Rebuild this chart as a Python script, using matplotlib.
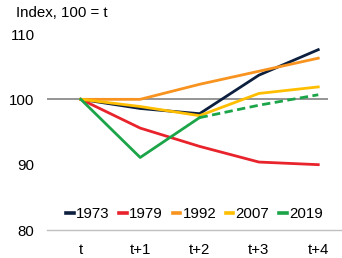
import matplotlib.pyplot as plt

plt.rcParams['font.family'] = ['Liberation Sans', 'DejaVu Sans']

periods = ['t', 't+1', 't+2', 't+3', 't+4']
s1973 = [100, 98.6, 97.8, 103.7, 107.6]
s1979 = [100, 95.6, 92.8, 90.4, 90.0]
s1992 = [100, 100, 102.3, 104.3, 106.3]
s2007 = [100, 98.9, 97.5, 100.9, 101.9]
s2019 = [100, 91.1, 97.2]
s2019_proj = [97.2, 99.1, 100.7]

fig = plt.figure(figsize=(3.42, 2.58), dpi=100)
ax = fig.add_axes([47 / 342, 28 / 258, 295 / 342, 196 / 258])

x = list(range(len(periods)))
ax.hlines(100, -0.57, 4.17, color='#8c8c8c', lw=1.3, zorder=1)

lw = 2.0
ax.plot(x, s1973, color='#0d1f3f', lw=lw, label='1973', zorder=3)
ax.plot(x, s1979, color='#e8232b', lw=lw, label='1979', zorder=3)
ax.plot(x, s1992, color='#f7931e', lw=lw, label='1992', zorder=3)
ax.plot(x, s2007, color='#ffbf00', lw=lw, label='2007', zorder=3)
ax.plot(x[:3], s2019, color='#1ba548', lw=lw, label='2019', zorder=3)
ax.plot(x[2:], s2019_proj, color='#1ba548', lw=lw, ls=(0, (3, 1.6)), zorder=3)

ax.set_xlim(-0.57, 4.4)
ax.set_ylim(80, 110)
ax.set_xticks(x)
ax.set_xticklabels(periods)
ax.set_yticks([80, 90, 100, 110])
ax.tick_params(length=0, labelsize=10.8, colors='#000000', pad=9)
ax.tick_params(axis='y', pad=9)

for side in ['top', 'right', 'left']:
    ax.spines[side].set_visible(False)
ax.spines['bottom'].set_color('#c0c0c0')
ax.spines['bottom'].set_linewidth(1.0)

fig.text(16 / 342, 1 - 13 / 258, 'Index, 100 = t', fontsize=10.8, va='center')

ax.legend(loc='center', bbox_to_anchor=(0.5, 0.08), ncol=5, frameon=False,
          fontsize=10.8, handlelength=0.5, handletextpad=0.15, columnspacing=0.65,
          borderpad=0)
for h in ax.get_legend().get_lines():
    h.set_linewidth(2.6)

fig.savefig('out.png', dpi=100)
